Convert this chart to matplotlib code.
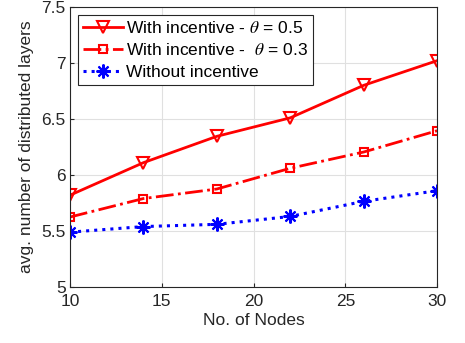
import matplotlib
matplotlib.use("Agg")
import matplotlib.pyplot as plt
from matplotlib.ticker import FuncFormatter

# 데이터
nodes = [10, 14, 18, 22, 26, 30]
theta05 = [5.82, 6.11, 6.345, 6.51, 6.80, 7.02]
theta03 = [5.625, 5.79, 5.875, 6.06, 6.205, 6.395]
no_incentive = [5.49, 5.54, 5.56, 5.63, 5.765, 5.86]

plt.rcParams['font.family'] = ['Liberation Sans', 'DejaVu Sans']
plt.rcParams['mathtext.fontset'] = 'stix'

fs = 12.5
fig = plt.figure(figsize=(4.65, 3.43), dpi=100)
ax = fig.add_axes([0.1505, 0.163, 0.7895, 0.817])

ax.plot(nodes, theta05, color='red', linestyle='-', linewidth=2,
        marker='v', markersize=8, markerfacecolor='none', markeredgewidth=1.5,
        label=r'With incentive - $\theta$ = 0.5')
ax.plot(nodes, theta03, color='red', linestyle='-.', linewidth=2,
        marker='s', markersize=6, markerfacecolor='none', markeredgewidth=1.5,
        label=r'With incentive -  $\theta$ = 0.3')
ax.plot(nodes, no_incentive, color='blue', linestyle=':', linewidth=2.2,
        marker=(8, 2, 0), markersize=10, markeredgewidth=1.5,
        label='Without incentive')

ax.set_xlim(10, 30)
ax.set_ylim(5, 7.5)
ax.set_xticks([10, 15, 20, 25, 30])
ax.set_yticks([5, 5.5, 6, 6.5, 7, 7.5])
ax.yaxis.set_major_formatter(FuncFormatter(lambda v, p: f'{v:g}'))
ax.grid(True, color='#e0e0e0', linewidth=0.8)
ax.set_axisbelow(True)
for s in ax.spines.values():
    s.set_color('#262626')
    s.set_linewidth(0.8)
ax.tick_params(labelsize=fs, colors='#262626', direction='in', length=3)
ax.tick_params(axis='x', pad=5)
ax.tick_params(axis='y', pad=3)

ax.set_xlabel('No. of Nodes', fontsize=fs, color='#262626', labelpad=3)
ax.set_ylabel('avg. number of distributed layers', fontsize=fs, color='#262626', labelpad=5)

leg = ax.legend(loc='upper left', fontsize=fs, fancybox=False, framealpha=1,
                edgecolor='#262626', handlelength=2.3, borderpad=0.3,
                labelspacing=0.38, handletextpad=0.15, borderaxespad=0.45)
leg.get_frame().set_linewidth(0.8)

plt.savefig('out.png', dpi=100)
